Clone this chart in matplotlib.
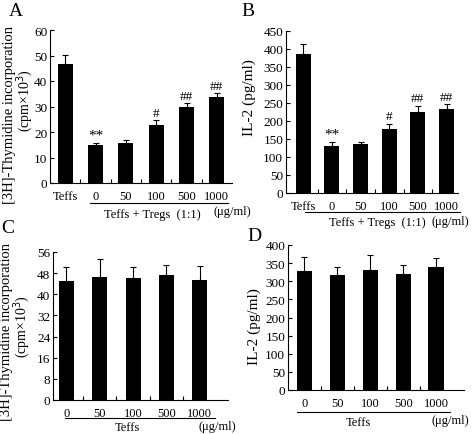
import numpy as np
import matplotlib
matplotlib.use("Agg")
import matplotlib.pyplot as plt

plt.rcParams['font.family'] = ['Liberation Serif', 'DejaVu Serif']

# Panel A: [3H]-thymidine, Teffs vs Teffs+Tregs
a_labels = ["Teffs", "0", "50", "100", "500", "1000"]
a_vals = [46.5, 15.0, 15.5, 22.7, 30.0, 33.8]
a_err = [3.8, 0.7, 1.3, 2.0, 1.4, 1.4]
a_marks = ["", "**", "", "#", "##", "##"]

# Panel B: IL-2
b_labels = ["Teffs", "0", "50", "100", "500", "1000"]
b_vals = [385, 130, 135, 178, 225, 234]
b_err = [30, 12, 8, 14, 18, 12]
b_marks = ["", "**", "", "#", "##", "##"]

# Panel C: [3H]-thymidine, Teffs only
c_labels = ["0", "50", "100", "500", "1000"]
c_vals = [45.0, 46.7, 46.3, 47.3, 45.3]
c_err = [5.3, 6.8, 4.0, 3.8, 5.3]

# Panel D: IL-2, Teffs only
d_labels = ["0", "50", "100", "500", "1000"]
d_vals = [328, 318, 330, 320, 338]
d_err = [38, 22, 42, 25, 26]

W, H = 472, 435
fig = plt.figure(figsize=(W/100, H/100), dpi=100)

def px_axes(left, right, top, bottom):
  return fig.add_axes([left/W, 1-bottom/H, (right-left)/W, (bottom-top)/H])

def ftext(x, y, s, **kw):
  fig.text(x/W, 1-y/H, s, **kw)

def fline(x0, x1, y):
  fig.add_artist(plt.Line2D([x0/W, x1/W], [1-y/H, 1-y/H], color='k', lw=0.8))

def draw_bars(ax, labels, vals, err, width, xlim, ylim, step, marks=None):
  x = np.arange(len(vals))
  ax.bar(x, vals, width=width, color='k')
  ax.errorbar(x, vals, yerr=[np.zeros(len(err)), err], fmt='none',
              ecolor='k', elinewidth=0.8, capsize=2.5, capthick=0.8)
  if marks:
    for xi, v, e, m in zip(x, vals, err, marks):
      if m:
        fs = 11 if m == "**" else 9.5
        ax.annotate(m, (xi, v+e), xytext=(0, 1), textcoords='offset points',
                    ha='center', va='bottom', fontsize=fs)
  ax.set_xlim(*xlim)
  ax.set_ylim(*ylim)
  ax.set_yticks(np.arange(ylim[0], ylim[1]+step/2, step))
  ax.set_xticks(x)
  ax.set_xticklabels(labels)
  ax.set_xticks(x[:-1]+0.5, minor=True)
  ax.tick_params(axis='x', which='major', length=0, pad=5, labelsize=9)
  ax.tick_params(axis='x', which='minor', direction='in', length=3, width=0.8)
  ax.tick_params(axis='y', direction='in', length=3, width=0.8, labelsize=9.5, pad=2)
  for s in ['top', 'right']:
    ax.spines[s].set_visible(False)
  for s in ['left', 'bottom']:
    ax.spines[s].set_linewidth(0.8)

axA = px_axes(50, 232, 31, 184)
draw_bars(axA, a_labels, a_vals, a_err, 0.5, (-0.5, 5.5), (0, 60), 10, a_marks)
axB = px_axes(286, 458, 32, 194)
draw_bars(axB, b_labels, b_vals, b_err, 0.52, (-0.6, 5.4), (0, 450), 50, b_marks)
axC = px_axes(53, 228, 253, 401)
draw_bars(axC, c_labels, c_vals, c_err, 0.45, (-0.4, 4.85), (0, 56), 8)
axD = px_axes(288, 464, 246, 391)
draw_bars(axD, d_labels, d_vals, d_err, 0.46, (-0.5, 4.85), (0, 400), 50)

# y labels
ftext(10, 115, "[3H]-Thymidine incorporation", rotation=90, ha='center', va='center', fontsize=10.5)
ftext(25, 101, "(cpm\u00d710$^3$)", rotation=90, ha='center', va='center', fontsize=10)
ftext(249, 98, "IL-2 (pg/ml)", rotation=90, ha='center', va='center', fontsize=11)
ftext(7, 332, "[3H]-Thymidine incorporation", rotation=90, ha='center', va='center', fontsize=10.5)
ftext(22, 327, "(cpm\u00d710$^3$)", rotation=90, ha='center', va='center', fontsize=10)
ftext(254, 327, "IL-2 (pg/ml)", rotation=90, ha='center', va='center', fontsize=11)

# panel letters
for lx, ly, s in [(16, 12, "A"), (248, 11, "B"), (8, 229, "C"), (254, 237, "D")]:
  ftext(lx, ly, s, ha='center', va='center', fontsize=14)

# group underlines and captions
fline(90, 228, 204)
ftext(152, 215, "Teffs + Tregs  (1:1)", ha='center', va='center', fontsize=9)
ftext(213, 212, "(\u03bcg/ml)", ha='left', va='center', fontsize=9)

fline(305, 460, 213)
ftext(377, 223, "Teffs + Tregs  (1:1)", ha='center', va='center', fontsize=9)
ftext(469, 222, "(\u03bcg/ml)", ha='right', va='center', fontsize=9)

fline(65, 215, 419)
ftext(127, 428, "Teffs", ha='center', va='center', fontsize=9)
ftext(236, 427, "(\u03bcg/ml)", ha='right', va='center', fontsize=9)

fline(297, 450, 413)
ftext(358, 423, "Teffs", ha='center', va='center', fontsize=9)
ftext(469, 421, "(\u03bcg/ml)", ha='right', va='center', fontsize=9)

fig.savefig("out.png", dpi=100)
